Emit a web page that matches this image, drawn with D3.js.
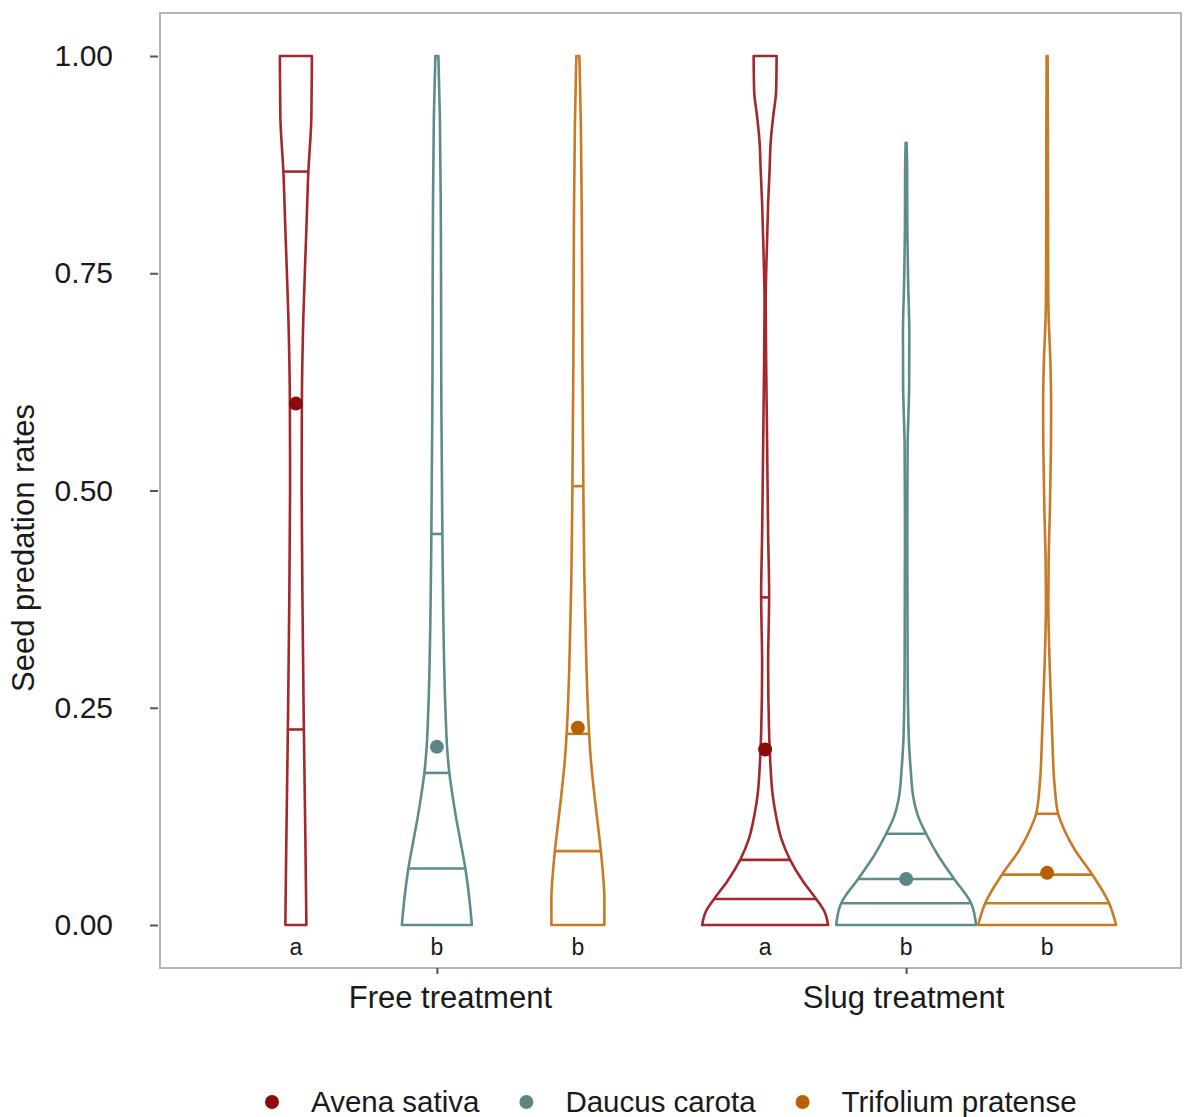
<!DOCTYPE html>
<html>
<head>
<meta charset="utf-8">
<script src="https://cdn.jsdelivr.net/npm/d3@7"></script>
<style>
body { margin: 0; background: #fff; }
text { font-family: "Liberation Sans", Arial, sans-serif; fill: #1a1a1a; }
</style>
</head>
<body>
<div id="chart"></div>
<script>
var groups = ["Free treatment", "Slug treatment"];
var species = ["Avena sativa", "Daucus carota", "Trifolium pratense"];
var yTicks = [0, 0.25, 0.5, 0.75, 1];

// violin density profiles, [predation rate, density]
var freeAvena = [[0,1.05],[0.1,0.95],[0.225,0.8],[0.35,0.68],[0.5,0.58],[0.6,0.6],[0.7,0.75],[0.8,1.05],[0.867,1.25],[0.93,1.55],[1,1.6]];
var freeDaucus = [[0,3.5],[0.03,3.25],[0.065,2.85],[0.1,2.3],[0.125,1.9],[0.15,1.55],[0.175,1.25],[0.2,1.05],[0.25,0.85],[0.35,0.65],[0.45,0.55],[0.6,0.45],[0.8,0.4],[0.93,0.3],[1,0.15]];
var freeTrifolium = [[0,2.65],[0.03,2.65],[0.06,2.5],[0.085,2.3],[0.12,1.95],[0.15,1.65],[0.19,1.3],[0.225,1.1],[0.3,0.85],[0.4,0.65],[0.5,0.55],[0.65,0.45],[0.8,0.4],[0.92,0.3],[1,0.15]];
var slugAvena = [[0,6.3],[0.015,5.95],[0.03,5.1],[0.05,3.8],[0.075,2.5],[0.1,1.6],[0.125,1.1],[0.15,0.75],[0.18,0.55],[0.22,0.4],[0.3,0.3],[0.38,0.4],[0.45,0.3],[0.55,0.2],[0.65,0.1],[0.72,0.06],[0.77,0.15],[0.83,0.3],[0.87,0.45],[0.9,0.55],[0.93,0.8],[0.96,1.1],[1,1.15]];
var slugDaucus = [[0,7],[0.025,6.5],[0.053,4.8],[0.08,3.2],[0.105,2],[0.125,1.2],[0.145,0.75],[0.18,0.45],[0.22,0.25],[0.3,0.15],[0.45,0.12],[0.55,0.15],[0.62,0.3],[0.68,0.32],[0.74,0.2],[0.8,0.12],[0.87,0.1],[0.9,0.05]];
var slugTrifolium = [[0,6.9],[0.025,6.2],[0.06,4.4],[0.086,2.8],[0.11,1.7],[0.128,1.1],[0.16,0.75],[0.22,0.5],[0.3,0.25],[0.37,0.12],[0.42,0.15],[0.48,0.28],[0.55,0.38],[0.6,0.4],[0.65,0.32],[0.7,0.15],[0.75,0.1],[0.9,0.08],[1,0.05]];

var profiles = [[freeAvena, freeDaucus, freeTrifolium], [slugAvena, slugDaucus, slugTrifolium]];
var quantiles = [[[0.225, 0.867], [0.065, 0.175, 0.45], [0.085, 0.22, 0.505]],
                 [[0.03, 0.075, 0.377], [0.025, 0.053, 0.105], [0.025, 0.058, 0.128]]];
var means = [[0.6, 0.205, 0.227], [0.202, 0.053, 0.06]];
var letters = [["a", "b", "b"], ["a", "b", "b"]];

var lineColors = ["#a3282c", "#5f8b8c", "#c87a24"];
var dotColors = ["#8b0b0b", "#5b8686", "#b85f02"];
var labelShift = [13, -3];

var W = 1184, H = 1117;
var panel = {left: 160, right: 1181, top: 13, bottom: 968};

var svg = d3.select("#chart").append("svg")
  .attr("width", W).attr("height", H);

var yScale = d3.scaleLinear().domain([0, 1]).range([925, 56]);
var xGroup = d3.scalePoint().domain(groups).range([panel.left, panel.right + 2]).padding(0.59);
var xSpecies = d3.scalePoint().domain(species).range([-141, 141]);
var wScale = d3.scaleLinear().domain([0, 7]).range([0, 70]);

// panel border
svg.append("rect")
  .attr("x", panel.left).attr("y", panel.top)
  .attr("width", panel.right - panel.left).attr("height", panel.bottom - panel.top)
  .attr("fill", "none").attr("stroke", "#b5b5b5").attr("stroke-width", 2);

// y axis
var yAxis = svg.append("g")
  .attr("transform", "translate(" + (panel.left - 2) + ",0)")
  .call(d3.axisLeft(yScale).tickValues(yTicks).tickFormat(d3.format(".2f")).tickSize(8).tickPadding(37));
yAxis.select(".domain").remove();
yAxis.selectAll(".tick line").attr("stroke", "#555").attr("stroke-width", 2);
yAxis.selectAll(".tick text").style("font-size", "30px").attr("fill", "#1a1a1a");

svg.append("text")
  .attr("transform", "translate(34,548) rotate(-90)")
  .attr("text-anchor", "middle")
  .style("font-size", "31px")
  .text("Seed predation rates");

// x axis
var xAxis = svg.append("g")
  .attr("transform", "translate(0," + panel.bottom + ")")
  .call(d3.axisBottom(xGroup).tickSize(6).tickPadding(12));
xAxis.select(".domain").remove();
xAxis.selectAll(".tick line").attr("stroke", "#555").attr("stroke-width", 2);
xAxis.selectAll(".tick text").style("font-size", "31px").attr("fill", "#1a1a1a")
  .attr("dx", function(d, i) { return labelShift[i]; });

// violins
groups.forEach(function(g, gi) {
  species.forEach(function(s, si) {
    var cx = xGroup(g) + xSpecies(s);
    var prof = profiles[gi][si];
    var densAt = d3.scaleLinear().domain(prof.map(function(d) { return d[0]; }))
      .range(prof.map(function(d) { return d[1]; }));

    var area = d3.area()
      .y(function(d) { return yScale(d[0]); })
      .x0(function(d) { return cx - wScale(d[1]); })
      .x1(function(d) { return cx + wScale(d[1]); })
      .curve(d3.curveMonotoneY);

    svg.append("path")
      .datum(prof)
      .attr("d", area)
      .attr("fill", "none")
      .attr("stroke", lineColors[si])
      .attr("stroke-width", 2.6)
      .attr("stroke-linejoin", "round");

    quantiles[gi][si].forEach(function(q) {
      var hw = wScale(densAt(q));
      svg.append("line")
        .attr("x1", cx - hw).attr("x2", cx + hw)
        .attr("y1", yScale(q)).attr("y2", yScale(q))
        .attr("stroke", lineColors[si]).attr("stroke-width", 2.6);
    });

    svg.append("circle")
      .attr("cx", cx).attr("cy", yScale(means[gi][si]))
      .attr("r", 7).attr("fill", dotColors[si]);

    svg.append("text")
      .attr("x", cx).attr("y", 955)
      .attr("text-anchor", "middle")
      .style("font-size", "23px")
      .text(letters[gi][si]);
  });
});

// legend
var lx = 265;
species.forEach(function(s, si) {
  svg.append("circle").attr("cx", lx + 7).attr("cy", 1102).attr("r", 7).attr("fill", dotColors[si]);
  var t = svg.append("text").attr("x", lx + 46).attr("y", 1112)
    .style("font-size", "29.5px").text(s);
  lx += 46 + t.node().getComputedTextLength() + 40;
});
</script>
</body>
</html>
